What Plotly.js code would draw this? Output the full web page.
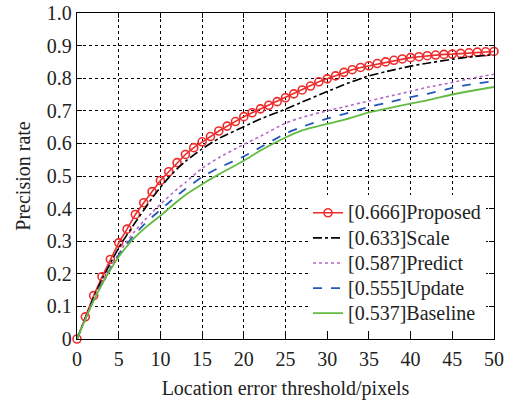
<!DOCTYPE html>
<html>
<head>
<meta charset="utf-8">
<script src="https://cdn.plot.ly/plotly-3.0.1.min.js"></script>
<style>html,body{margin:0;padding:0;background:#fff;}#chart{width:511px;height:400px;}</style>
</head>
<body>
<div id="chart"></div>
<script>
// Proposed: sampled at every integer threshold 0..50
const xProposed = [0, 1, 2, 3, 4, 5, 6, 7, 8, 9, 10, 11, 12, 13, 14, 15, 16, 17, 18, 19, 20,
  21, 22, 23, 24, 25, 26, 27, 28, 29, 30, 31, 32, 33, 34, 35, 36, 37, 38, 39, 40,
  41, 42, 43, 44, 45, 46, 47, 48, 49, 50];
const yProposed = [0, 0.068, 0.133, 0.191, 0.244, 0.295, 0.337, 0.382, 0.418, 0.452, 0.486,
  0.513, 0.541, 0.566, 0.587, 0.605, 0.621, 0.638, 0.653, 0.667, 0.682,
  0.694, 0.706, 0.717, 0.728, 0.740, 0.752, 0.764, 0.776, 0.789, 0.798,
  0.807, 0.818, 0.826, 0.833, 0.838, 0.845, 0.850, 0.855, 0.859, 0.863,
  0.866, 0.869, 0.871, 0.873, 0.874, 0.876, 0.878, 0.880, 0.881, 0.882];

// Other methods
const xOther = [0, 1, 2, 3, 4, 5, 6, 7, 8, 9, 10, 11, 12, 13, 15, 17, 20, 22, 25, 27, 30, 32, 35, 37, 40, 42, 45, 47, 50];
const yScale = [0, 0.065, 0.128, 0.183, 0.232, 0.280, 0.320, 0.358, 0.395, 0.432, 0.465, 0.495, 0.522, 0.545, 0.583, 0.615, 0.651, 0.675, 0.705, 0.727, 0.759, 0.780, 0.807, 0.820, 0.837, 0.846, 0.858, 0.865, 0.872];
const yPredict = [0, 0.062, 0.122, 0.175, 0.220, 0.262, 0.300, 0.333, 0.362, 0.388, 0.413, 0.437, 0.460, 0.480, 0.524, 0.556, 0.597, 0.622, 0.662, 0.680, 0.700, 0.712, 0.730, 0.742, 0.760, 0.772, 0.787, 0.798, 0.812];
const yUpdate = [0, 0.061, 0.120, 0.170, 0.215, 0.258, 0.292, 0.323, 0.350, 0.374, 0.396, 0.418, 0.440, 0.460, 0.497, 0.525, 0.560, 0.588, 0.630, 0.651, 0.676, 0.690, 0.712, 0.724, 0.742, 0.752, 0.770, 0.780, 0.791];
const yBaseline = [0, 0.060, 0.118, 0.168, 0.212, 0.252, 0.285, 0.313, 0.337, 0.358, 0.378, 0.400, 0.422, 0.442, 0.475, 0.505, 0.547, 0.578, 0.618, 0.640, 0.660, 0.672, 0.695, 0.706, 0.722, 0.732, 0.750, 0.760, 0.773];

const names = ['[0.666]Proposed', '[0.633]Scale', '[0.587]Predict', '[0.555]Update', '[0.537]Baseline'];
const xTicks = [0, 5, 10, 15, 20, 25, 30, 35, 40, 45, 50];
const yTicks = [0, 0.1, 0.2, 0.3, 0.4, 0.5, 0.6, 0.7, 0.8, 0.9, 1.0];
const yTickText = ['0', '0.1', '0.2', '0.3', '0.4', '0.5', '0.6', '0.7', '0.8', '0.9', '1.0'];

const serif = 'Liberation Serif, Times New Roman, serif';
const legendLabel = n => '<span style="font-size:20px">' + n + '</span>';

const traces = [
  {x: xProposed, y: yProposed, name: legendLabel(names[0]), mode: 'lines+markers', cliponaxis: false,
   line: {color: '#ee2b2b', width: 1.6},
   marker: {symbol: 'circle-open', size: 8, color: '#ee2b2b', line: {width: 1.6, color: '#ee2b2b'}}},
  {x: xOther, y: yScale, name: legendLabel(names[1]), mode: 'lines', line: {color: '#000000', width: 1.6, dash: 'dashdot', shape: 'spline', smoothing: 0.6}},
  {x: xOther, y: yPredict, name: legendLabel(names[2]), mode: 'lines', line: {color: '#b36ac8', width: 1.6, dash: 'dot', shape: 'spline', smoothing: 0.6}},
  {x: xOther, y: yUpdate, name: legendLabel(names[3]), mode: 'lines', line: {color: '#2458b8', width: 1.8, dash: 'dash', shape: 'spline', smoothing: 0.6}},
  {x: xOther, y: yBaseline, name: legendLabel(names[4]), mode: 'lines', line: {color: '#64bb44', width: 1.8, shape: 'spline', smoothing: 0.6}}
];

const axisCommon = {
  showline: true, linecolor: '#000', linewidth: 1.2, mirror: 'ticks',
  ticks: 'inside', ticklen: 5, tickcolor: '#000',
  showgrid: true, gridcolor: '#000', gridwidth: 1, griddash: 'dot',
  zeroline: false, tickfont: {family: serif, size: 20, color: '#222'}
};

const layout = {
  width: 511, height: 400,
  margin: {l: 77, r: 17, t: 13, b: 61},
  paper_bgcolor: '#fff', plot_bgcolor: '#fff',
  font: {family: serif, color: '#222'},
  xaxis: Object.assign({}, axisCommon, {
    range: [0, 50], tickvals: xTicks, ticktext: xTicks.map(String), ticklabelstandoff: 2,
    title: {text: 'Location error threshold/pixels', font: {family: serif, size: 20, color: '#222'}, standoff: 12}
  }),
  yaxis: Object.assign({}, axisCommon, {
    range: [0, 1], tickvals: yTicks, ticktext: yTickText,
    title: {text: 'Precision rate', font: {family: serif, size: 20, color: '#222'}, standoff: 10}
  }),
  showlegend: true,
  legend: {
    x: 0.554, y: 0.441, xanchor: 'left', yanchor: 'top',
    bgcolor: '#fff', borderwidth: 0,
    font: {family: serif, size: 17, color: '#222'},
    tracegroupgap: 0, itemwidth: 30
  }
};

Plotly.newPlot('chart', traces, layout, {displayModeBar: false, staticPlot: true});
</script>
</body>
</html>
